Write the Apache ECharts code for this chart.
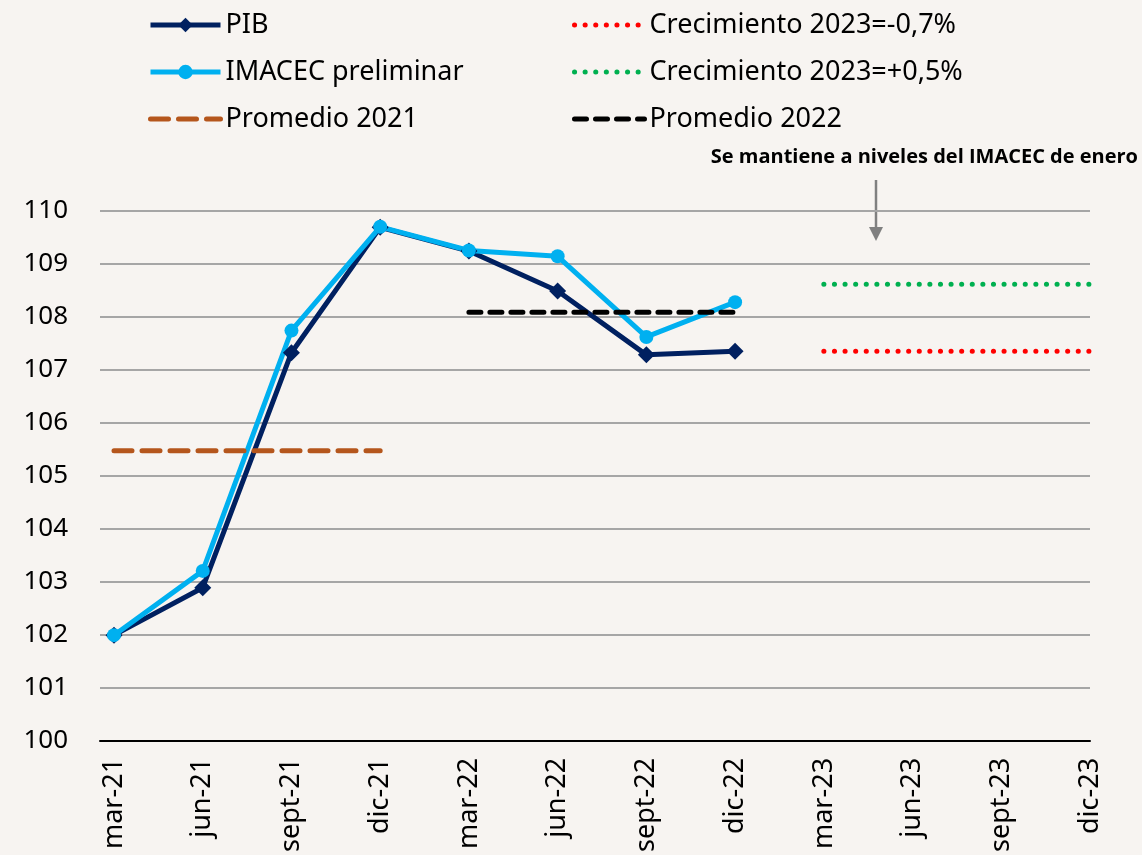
<!DOCTYPE html>
<html>
<head>
<meta charset="utf-8">
<script src="https://cdn.jsdelivr.net/npm/echarts@6/dist/echarts.min.js"></script>
<style>
  html, body { margin: 0; padding: 0; background: #f7f4f1; }
  #main { width: 1142px; height: 855px; }
</style>
</head>
<body>
<div id="main"></div>
<script>
var categories = ["mar-21", "jun-21", "sept-21", "dic-21", "mar-22", "jun-22", "sept-22", "dic-22", "mar-23", "jun-23", "sept-23", "dic-23"];
var pib = [101.95, 102.85, 107.31, 109.69, 109.24, 108.48, 107.27, 107.34];
var imacec = [101.95, 103.17, 107.73, 109.70, 109.25, 109.14, 107.61, 108.27];
var promedio2021 = [105.45, 105.45, 105.45, 105.45];
var promedio2022 = [null, null, null, null, 108.08, 108.08, 108.08, 108.08];
var crec2023Neg = [null, null, null, null, null, null, null, null, 107.34, 107.34, 107.34, 107.34];
var crec2023Pos = [null, null, null, null, null, null, null, null, 108.61, 108.61, 108.61, 108.61];

var myChart = echarts.init(document.getElementById("main"));
var font = "'Noto Sans', sans-serif";
var noSymbol = { color: "rgba(0,0,0,0)", borderWidth: 0 };

var legendText = { fontSize: 27, lineHeight: 30, color: "#000", fontFamily: font };

var option = {
    backgroundColor: "#f7f4f1",
    animation: false,
    textStyle: { fontFamily: font },
    legend: [
        {
            orient: "vertical", left: 143, top: 5,
            itemWidth: 70, itemHeight: 18, itemGap: 17,
            lineStyle: { width: 5 },
            textStyle: legendText,
            data: [
                "PIB",
                "IMACEC preliminar",
                { name: "Promedio 2021", itemStyle: noSymbol }
            ]
        },
        {
            orient: "vertical", left: 567, top: 5,
            itemWidth: 70, itemHeight: 18, itemGap: 17,
            lineStyle: { width: 5 },
            textStyle: legendText,
            data: [
                { name: "Crecimiento 2023=-0,7%", itemStyle: noSymbol },
                { name: "Crecimiento 2023=+0,5%", itemStyle: noSymbol },
                { name: "Promedio 2022", itemStyle: noSymbol }
            ]
        }
    ],
    grid: [
        { left: 100, right: 52, top: 211, bottom: 114 },
        { left: 114, right: 52, top: 211, bottom: 114 }
    ],
    xAxis: [
        {
            gridIndex: 0, type: "category", data: categories, boundaryGap: false,
            axisLine: { lineStyle: { color: "#000", width: 2 } },
            axisTick: { show: false }, axisLabel: { show: false }, splitLine: { show: false }
        },
        {
            gridIndex: 1, type: "category", data: categories, boundaryGap: false,
            axisLine: { show: false }, axisTick: { show: false },
            axisLabel: { rotate: 90, fontSize: 27, color: "#000", margin: 20, fontFamily: font }
        }
    ],
    yAxis: [
        {
            gridIndex: 0, type: "value", min: 100, max: 110, interval: 1,
            axisLine: { show: false }, axisTick: { show: false },
            axisLabel: { fontSize: 26, color: "#000", margin: 32, fontFamily: font },
            splitLine: { lineStyle: { color: "#a6a6a6", width: 2 } }
        },
        {
            gridIndex: 1, type: "value", min: 100, max: 110, interval: 1, show: false,
            splitLine: { show: false }
        }
    ],
    series: [
        {
            name: "PIB", type: "line", xAxisIndex: 1, yAxisIndex: 1, data: pib,
            symbol: "diamond", symbolSize: 17,
            lineStyle: { color: "#002060", width: 5 },
            itemStyle: { color: "#002060" }
        },
        {
            name: "IMACEC preliminar", type: "line", xAxisIndex: 1, yAxisIndex: 1, data: imacec,
            symbol: "circle", symbolSize: 14,
            lineStyle: { color: "#00b0f0", width: 5 },
            itemStyle: { color: "#00b0f0" }
        },
        {
            name: "Promedio 2021", type: "line", xAxisIndex: 1, yAxisIndex: 1, data: promedio2021,
            symbol: "none",
            lineStyle: { color: "#b5561c", width: 5, type: [18, 10], cap: "round" },
            itemStyle: { color: "#b5561c" }
        },
        {
            name: "Promedio 2022", type: "line", xAxisIndex: 1, yAxisIndex: 1, data: promedio2022,
            symbol: "none",
            lineStyle: { color: "#000", width: 5, type: [12, 9], cap: "round" },
            itemStyle: { color: "#000" }
        },
        {
            name: "Crecimiento 2023=-0,7%", type: "line", xAxisIndex: 1, yAxisIndex: 1, data: crec2023Neg,
            symbol: "none",
            lineStyle: { color: "#ff0000", width: 5, type: [0.1, 10.5], cap: "round" },
            itemStyle: { color: "#ff0000" }
        },
        {
            name: "Crecimiento 2023=+0,5%", type: "line", xAxisIndex: 1, yAxisIndex: 1, data: crec2023Pos,
            symbol: "none",
            lineStyle: { color: "#00b050", width: 5, type: [0.1, 10.5], cap: "round" },
            itemStyle: { color: "#00b050" }
        }
    ],
    graphic: [
        {
            type: "text", right: 4, top: 147,
            style: {
                text: "Se mantiene a niveles del IMACEC de enero",
                font: "bold 20px 'Open Sans', sans-serif", fill: "#000"
            }
        },
        {
            type: "line",
            shape: { x1: 876, y1: 180, x2: 876, y2: 230 },
            style: { stroke: "#808080", lineWidth: 2.5 }
        },
        {
            type: "polygon",
            shape: { points: [[869, 227], [883, 227], [876, 241]] },
            style: { fill: "#808080" }
        }
    ]
};

myChart.setOption(option);
</script>
</body>
</html>
